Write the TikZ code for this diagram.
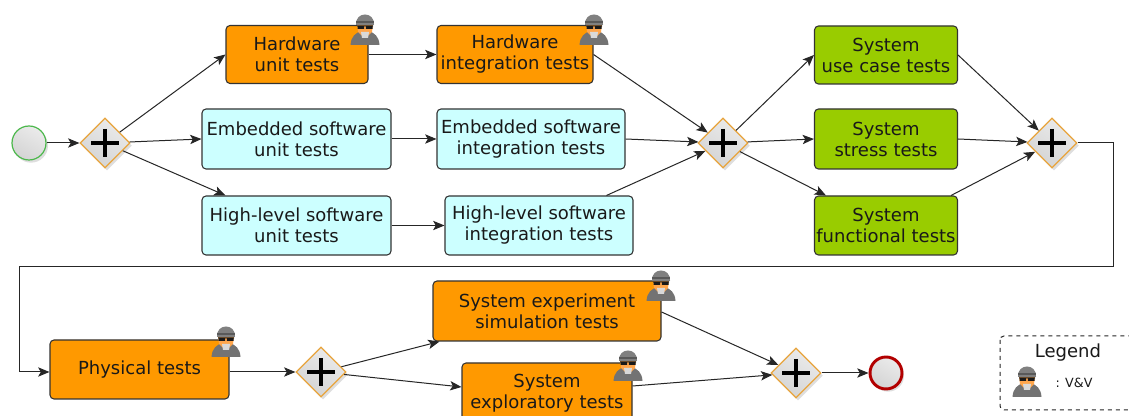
\documentclass[tikz,border=0pt]{standalone}
\usepackage{fontspec}
\setmainfont{DejaVu Sans}
\usetikzlibrary{shapes.geometric,arrows.meta,shadows,calc}
\definecolor{taskorange}{HTML}{FF9900}
\definecolor{taskcyan}{HTML}{CCFFFF}
\definecolor{taskgreen}{HTML}{99CC00}
\definecolor{gateedge}{HTML}{E8A43C}
\tikzset{
  taskbox/.style={draw=black!80,line width=0.8pt,rounded corners=3pt,inner sep=0pt,align=center,text=black!90,
    font=\fontsize{13.5}{15.75}\selectfont},
  hwbox/.style={taskbox,fill=taskorange},
  swbox/.style={taskbox,fill=taskcyan},
  sysbox/.style={taskbox,fill=taskgreen},
  gatewaybox/.style={diamond,aspect=1,draw=gateedge,line width=0.9pt,inner sep=0pt,minimum size=37.5pt,
    top color=white!92!black,bottom color=black!17,shading angle=-30,
    drop shadow={shadow xshift=1.5pt,shadow yshift=-2pt,fill=black!25,opacity=0.5}},
  eventbox/.style={circle,inner sep=0pt,top color=white!92!black,bottom color=black!17,shading angle=-30,
    drop shadow={shadow xshift=1.5pt,shadow yshift=-2pt,fill=black!25,opacity=0.5}},
  flow/.style={draw=black!85,line width=0.75pt,-{Stealth[length=8.5pt,width=7pt,inset=2pt]}},
  pics/plusmark/.style={code={\draw[line width=2.7pt,black] (-14,0) -- (14,0) (0,-14) -- (0,14);}},
  pics/person/.style={code={
    \fill[black!55] (-14.5,16) .. controls (-14,7) and (-9,4) .. (-4,2) -- (4,2) .. controls (9,4) and (14,7) .. (14.5,16) -- cycle;
    \fill[orange!70!white] (-8,-5) -- (8,-5) -- (7,3) -- (3,7) -- (-3,7) -- (-7,3) -- cycle;
    \fill[black!15] (-4,3) -- (4,3) -- (3,9) -- (-3,9) -- cycle;
    \fill[black!50] (-9,-4) .. controls (-10,-18) and (10,-18) .. (9,-4) -- cycle;
    \fill[black!65] (-9,-8) rectangle (9,-6);
    \fill[black!90] (-7.5,-3.5) rectangle (-0.8,-0.2) (0.8,-3.5) rectangle (7.5,-0.2) (-8,-3.5) rectangle (8,-2.7);
  }}
}
\begin{document}
\begin{tikzpicture}[x=0.75pt,y=-0.75pt]
\useasboundingbox (0,0) rectangle (1129,416);
\clip (0,0) rectangle (1129,416);
\fill[white] (0,0) rectangle (1129,416);

% tasks
\node[hwbox,minimum width=106.5pt,minimum height=43.5pt] (hwu) at (297,54.5) {Hardware\\unit tests};
\node[hwbox,minimum width=117pt,minimum height=43.5pt] (hwi) at (515,54.5) {Hardware\\integration tests};
\node[swbox,minimum width=141.75pt,minimum height=45pt] (emu) at (296.5,139) {Embedded software\\unit tests};
\node[swbox,minimum width=141pt,minimum height=45pt] (emi) at (531,139) {Embedded software\\integration tests};
\node[swbox,minimum width=141.75pt,minimum height=44.25pt] (hlu) at (296.5,225.5) {High-level software\\unit tests};
\node[swbox,minimum width=141pt,minimum height=44.25pt] (hli) at (539,225.5) {High-level software\\integration tests};
\node[sysbox,minimum width=107.25pt,minimum height=43.5pt] (suc) at (886,55) {System\\use case tests};
\node[sysbox,minimum width=107.25pt,minimum height=45pt] (sst) at (886,139) {System\\stress tests};
\node[sysbox,minimum width=107.25pt,minimum height=44.25pt] (sfu) at (886,225.5) {System\\functional tests};
\node[hwbox,minimum width=134.25pt,minimum height=44.25pt] (phy) at (139.5,369.5) {Physical tests};
\node[hwbox,minimum width=171pt,minimum height=45pt] (sex) at (547,311) {System experiment\\simulation tests};
\node[hwbox,minimum width=127.5pt,minimum height=45pt] (sxp) at (547,393) {System\\exploratory tests};

% events and gateways
\node[eventbox,draw=green!60!black!70,line width=0.9pt,minimum size=25.5pt] (start) at (29,143) {};
\node[eventbox,draw=red!70!black,line width=2.2pt,minimum size=24pt] (finish) at (886,373) {};
\node[gatewaybox] (g1) at (105,143) {};
\node[gatewaybox] (g2) at (723,143) {};
\node[gatewaybox] (g3) at (1052,143) {};
\node[gatewaybox] (g4) at (321,372) {};
\node[gatewaybox] (g5) at (796,373) {};
\foreach \g in {g1,g2,g3,g4,g5} \pic at (\g) {plusmark};

% connectors
\draw[flow] (start) -- (g1);
\draw[flow] (g1) -- (hwu.west);
\draw[flow] (g1) -- (emu.west);
\draw[flow] (g1) -- ($(hlu.north west)+(24,0)$);
\draw[flow] (hwu) -- (hwi);
\draw[flow] (emu) -- (emi);
\draw[flow] (hlu) -- (hli);
\draw[flow] (hwi.east) -- (g2);
\draw[flow] (emi.east) -- (g2);
\draw[flow] ($(hli.north west)+(162,0)$) -- (g2);
\draw[flow] (g2) -- (suc.west);
\draw[flow] (g2) -- (sst.west);
\draw[flow] (g2) -- ($(sfu.north west)+(12,0)$);
\draw[flow] (suc.east) -- (g3);
\draw[flow] (sst.east) -- (g3);
\draw[flow] ($(sfu.north east)+(-7,0)$) -- (g3);
\coordinate (r1) at (1113,143);
\coordinate (r2) at (1113,267);
\coordinate (r3) at (19,267);
\coordinate (r4) at (19,372);
\draw[flow] (g3.east) -- (r1) -- (r2) -- (r3) -- (r4) -- (phy.west |- r4);
\draw[flow] (phy.east |- g4) -- (g4);
\draw[flow] (g4) -- ($(sex.south west)+(7,0)$);
\draw[flow] (g4) -- ($(sxp.west)+(0,-6)$);
\draw[flow] ($(sex.east)+(0,1)$) -- (g5);
\draw[flow] ($(sxp.east)+(0,-7)$) -- (g5);
\draw[flow] (g5) -- (finish);

% re-draw tops so arrow ends stay neat
\foreach \p in {(365,29),(594,29),(661,285),(628,365),(226,341),(1027,381)} \pic at \p {person};

% legend
\draw[dashed,draw=black!85,line width=0.75pt,rounded corners=3pt] (1000,336) rectangle (1145,410);
\node[inner sep=0pt,text=black!90,font=\fontsize{13.5}{15.75}\selectfont] (legendtitle) at (1068,353) {Legend};
\node[inner sep=0pt,text=black!90,font=\fontsize{9.5}{11}\selectfont] (legendvv) at (1074,383) {: V\&V};
\end{tikzpicture}
\end{document}
